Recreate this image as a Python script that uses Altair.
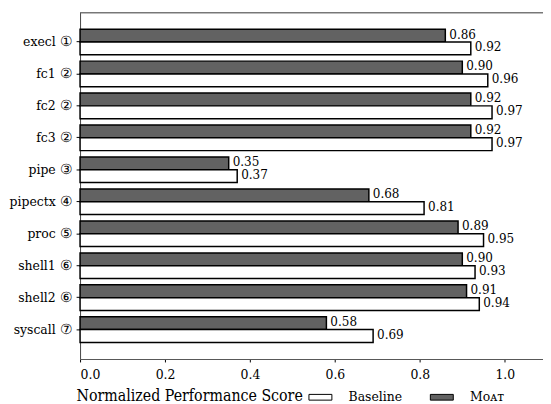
import altair as alt
import pandas as pd

benchmarks = ["execl ①", "fc1 ②", "fc2 ②", "fc3 ②", "pipe ③", "pipectx ④",
              "proc ⑤", "shell1 ⑥", "shell2 ⑥", "syscall ⑦"]
moat = [0.86, 0.90, 0.92, 0.92, 0.35, 0.68, 0.89, 0.90, 0.91, 0.58]
baseline = [0.92, 0.96, 0.97, 0.97, 0.37, 0.81, 0.95, 0.93, 0.94, 0.69]
series = ["Baseline", "Mᴏᴀᴛ"]
x_ticks = [0.0, 0.2, 0.4, 0.6, 0.8, 1.0]
x_max = 1.09

rows = []
for b, m, bl in zip(benchmarks, moat, baseline):
    rows.append({"bench": b, "series": series[1], "value": m})
    rows.append({"bench": b, "series": series[0], "value": bl})
df = pd.DataFrame(rows)

FONT = "DejaVu Serif Condensed, DejaVu Serif"

y_enc = alt.Y("bench:N", sort=benchmarks, title=None,
              scale=alt.Scale(paddingInner=0.2, paddingOuter=0.52),
              axis=alt.Axis(labelFont=FONT, labelFontSize=14, labelColor="black",
                            domainColor="#444444", tickColor="black", tickSize=4,
                            labelPadding=4))
yoff = alt.YOffset("series:N", sort=[series[1], series[0]],
                   scale=alt.Scale(paddingInner=0, paddingOuter=0))
x_scale = alt.Scale(domain=[0, x_max], nice=False, zero=True)

bars = alt.Chart(df).mark_bar(stroke="black", strokeWidth=1.5).encode(
    x=alt.X("value:Q", scale=x_scale, title="Normalized Performance Score",
            axis=alt.Axis(values=x_ticks, format=".1f", grid=False,
                          labelFont=FONT, labelFontSize=14, labelColor="black",
                          titleFont=FONT, titleFontSize=16,
                          titleFontWeight="normal",
                          titleColor="black", titleAnchor="start", titleX=-4,
                          titlePadding=6, domainColor="#555555",
                          tickColor="black", tickSize=3, labelPadding=6)),
    y=y_enc,
    yOffset=yoff,
    fill=alt.Fill("series:N", sort=series,
                  scale=alt.Scale(domain=series, range=["white", "#626262"]),
                  legend=alt.Legend(title=None, orient="none", direction="horizontal",
                                    legendX=231, legendY=377,
                                    symbolType="M-1,-0.25L1,-0.25L1,0.25L-1,0.25Z",
                                    symbolSize=540, symbolStrokeColor="black",
                                    symbolStrokeWidth=1, labelFont=FONT,
                                    labelFontSize=14, labelColor="black",
                                    labelOffset=16, columnPadding=25)),
)

labels = alt.Chart(df).mark_text(align="left", baseline="middle", dx=4, dy=-1,
                                 font=FONT, fontSize=13.5, color="black").encode(
    x=alt.X("value:Q", scale=x_scale),
    y=alt.Y("bench:N", sort=benchmarks),
    yOffset=yoff,
    text=alt.Text("value:Q", format=".2f"),
)

top = alt.Chart(df).mark_rule(color="#777777", strokeWidth=1).encode(
    x=alt.datum(0, scale=x_scale),
    x2=alt.datum(x_max),
    y=alt.value(0),
)

chart = alt.layer(bars, labels, top).properties(
    width=469, height=351,
    autosize=alt.AutoSizeParams(type="none"),
    padding={"left": 73, "top": 2, "right": 0, "bottom": 45},
).configure_view(stroke=None)

chart.save("out.html", embed_options={"renderer": "svg", "actions": False})
